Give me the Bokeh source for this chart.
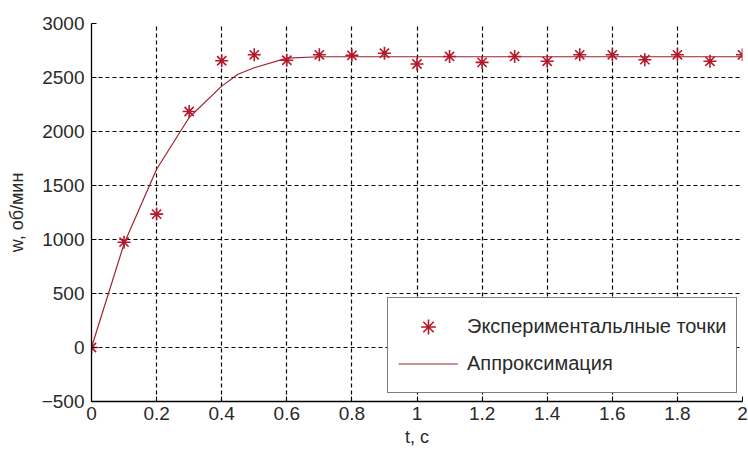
from bokeh.plotting import figure
from bokeh.models import Range1d, FixedTicker, Legend, LegendItem
from bokeh.embed import file_html
from bokeh.resources import INLINE

# Experimental points
t_exp = [0.0, 0.1, 0.2, 0.3, 0.4, 0.5, 0.6, 0.7, 0.8, 0.9, 1.0,
         1.1, 1.2, 1.3, 1.4, 1.5, 1.6, 1.7, 1.8, 1.9, 2.0]
w_exp = [0, 975, 1235, 2185, 2655, 2710, 2660, 2710, 2705, 2725, 2625,
         2695, 2640, 2695, 2650, 2710, 2710, 2665, 2710, 2650, 2710]

# Approximation curve
t_fit = [0.0, 0.1, 0.2, 0.3, 0.4, 0.45, 0.5, 0.6, 0.7, 0.8, 0.9, 1.0,
         1.2, 1.4, 1.6, 1.8, 2.0]
w_fit = [0, 960, 1650, 2130, 2420, 2530, 2590, 2680, 2692, 2692, 2692, 2692,
         2692, 2692, 2692, 2692, 2692]

x_ticks = [0, 0.2, 0.4, 0.6, 0.8, 1.0, 1.2, 1.4, 1.6, 1.8, 2.0]
x_tick_labels = ["0", "0.2", "0.4", "0.6", "0.8", "1", "1.2", "1.4", "1.6", "1.8", "2"]
y_ticks = [-500, 0, 500, 1000, 1500, 2000, 2500, 3000]

FONT = "Liberation Sans"
MARK = "#b3192b"
LINE = "#a3202e"

p = figure(width=748, height=452, output_backend="svg", toolbar_location=None,
           x_range=Range1d(0, 2), y_range=Range1d(-500, 3000),
           min_border_left=91, min_border_right=6, min_border_top=23, min_border_bottom=51)
p.outline_line_color = None
p.background_fill_color = "white"
p.border_fill_color = "white"

r_line = p.line(t_fit, w_fit, line_color=LINE, line_width=1.2)
r_pts = p.scatter(t_exp, w_exp, marker="asterisk", size=13, line_color=MARK, line_width=1.6)

p.xaxis.ticker = FixedTicker(ticks=x_ticks)
p.xaxis.major_label_overrides = {t: l for t, l in zip(x_ticks, x_tick_labels)}
p.yaxis.ticker = FixedTicker(ticks=y_ticks)
p.xaxis.minor_tick_line_color = None
p.yaxis.minor_tick_line_color = None
for ax in (p.xaxis, p.yaxis):
    ax.major_tick_in = 5
    ax.major_tick_out = 0
    ax.axis_line_color = "black"
    ax.axis_line_width = 1.3
    ax.major_tick_line_color = "black"
    ax.major_label_text_font = FONT
    ax.major_label_text_font_size = "19px"
    ax.major_label_text_color = "#2a2a2a"
    ax.axis_label_text_font = FONT
    ax.axis_label_text_font_size = "18px"
    ax.axis_label_text_font_style = "normal"
    ax.axis_label_text_color = "#2a2a2a"
p.xaxis.axis_label = "t, c"
p.yaxis.axis_label = "w, об/мин"
p.xaxis.major_label_standoff = 5
p.xaxis.axis_label_standoff = 4
p.yaxis.major_label_standoff = 7
p.yaxis.axis_label_standoff = 12

for g in (p.xgrid, p.ygrid):
    g.grid_line_color = "black"
    g.grid_line_dash = "4 3"
    g.grid_line_width = 1.2
    g.grid_line_alpha = 1.0
p.xgrid.ticker = FixedTicker(ticks=x_ticks)
p.ygrid.ticker = FixedTicker(ticks=y_ticks)

legend = Legend(items=[LegendItem(label="Экспериментальлные точки", renderers=[r_pts]),
                       LegendItem(label="Аппроксимация", renderers=[r_line])],
                location=(296, 8))
legend.label_text_font = FONT
legend.label_text_font_size = "20px"
legend.label_text_color = "#2a2a2a"
legend.glyph_width = 60
legend.glyph_height = 37
legend.label_height = 37
legend.spacing = 0
legend.padding = 10
legend.margin = 0
legend.label_standoff = 9
legend.border_line_color = "black"
legend.border_line_width = 1.3
legend.background_fill_color = "white"
legend.background_fill_alpha = 1.0
p.add_layout(legend, "center")

open("out.html", "w").write(file_html(p, INLINE))
